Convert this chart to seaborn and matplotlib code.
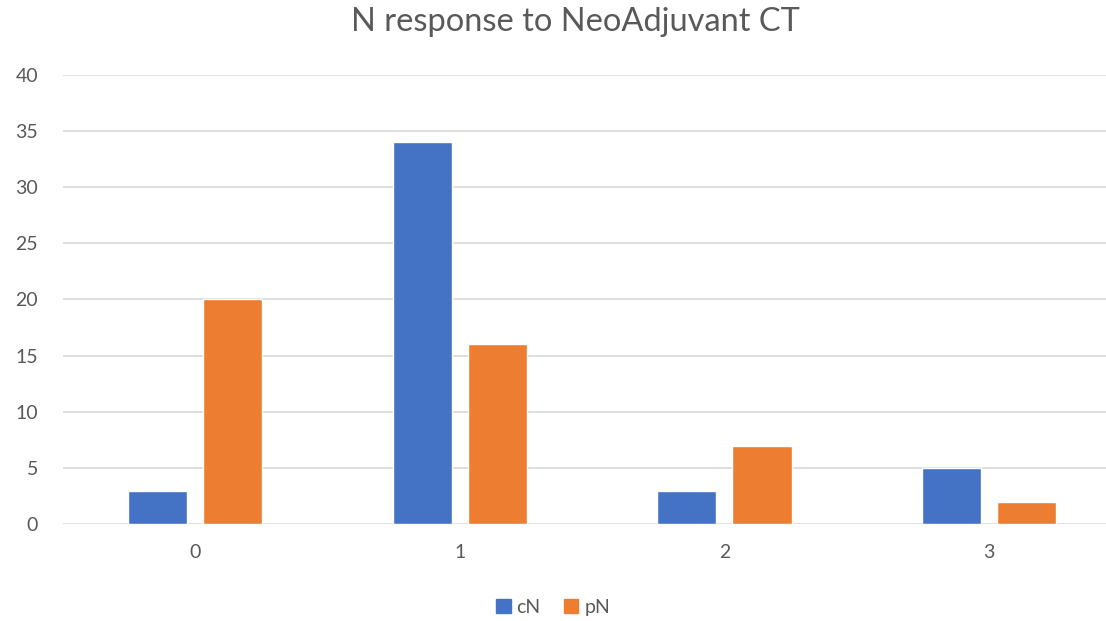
import pandas as pd
import seaborn as sns
import matplotlib.pyplot as plt
from matplotlib.patches import Patch

categories = ["0", "1", "2", "3"]
cn_values = [3, 34, 3, 5]
pn_values = [20, 16, 7, 2]
series = ["cN", "pN"]
colors = ["#4472C4", "#ED7D31"]

df = pd.DataFrame({
    "N": categories * 2,
    "count": cn_values + pn_values,
    "series": [series[0]] * 4 + [series[1]] * 4,
})

sns.set_style("white")
plt.rcParams["font.family"] = ["Lato", "DejaVu Sans"]

fig = plt.figure(figsize=(11.06, 6.21), dpi=100)
ax = fig.add_axes([63 / 1106, 1 - 524.3 / 621, 1 - 63 / 1106, (524.3 - 74.7) / 621])

sns.barplot(data=df, x="N", y="count", hue="series", palette=colors,
            width=0.57, gap=0.217, ax=ax, legend=False, saturation=1)

ax.set_xlim(-0.5, 3.443)
ax.set_ylim(0, 40)
ax.set_yticks(range(0, 41, 5))
ax.yaxis.grid(True, color="#D9D9D9", linewidth=1.2)
ax.set_axisbelow(True)
for s in ax.spines.values():
    s.set_visible(False)
ax.tick_params(axis="both", length=0, labelsize=14, labelcolor="#595959")
ax.tick_params(axis="y", pad=18)
ax.tick_params(axis="x", pad=14)
ax.set_xlabel("")
ax.set_ylabel("")

fig.text(0.52, 0.965, "N response to NeoAdjuvant CT", ha="center", va="center",
         fontsize=23.5, color="#595959")

handles = [Patch(color=c, label=l) for c, l in zip(colors, series)]
fig.legend(handles=handles, loc="center", bbox_to_anchor=(0.5, 0.022), ncol=2,
           frameon=False, fontsize=14, handlelength=0.75, handleheight=0.75,
           handletextpad=0.3, columnspacing=1.2, labelcolor="#595959")

fig.savefig("out.png", dpi=100)
